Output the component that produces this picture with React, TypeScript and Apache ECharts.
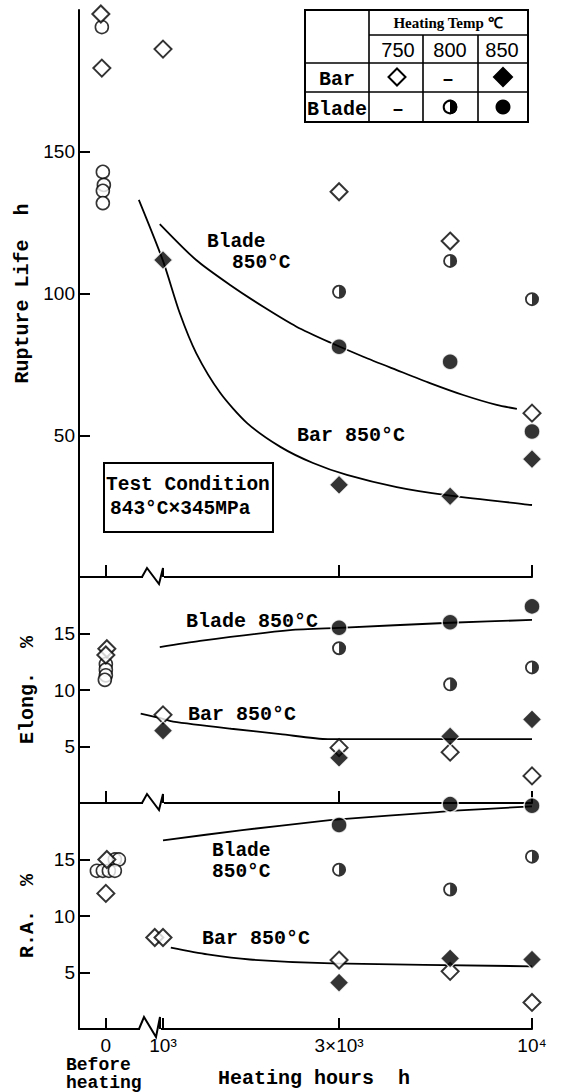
import React, { useEffect, useRef } from 'react';
import * as echarts from 'echarts';

// ---------- x axis (heating hours, log scale with a break) ----------
const BEFORE_SLOT = 700; // axis slot used for "0 / Before heating", left of the break
const X_MIN = 592;
const X_MAX = 10000;
const xTickHours = [BEFORE_SLOT, 1000, 3000, 10000];
const xTickLabels = ['0', '10³', '3×10³', '10⁴'];
const beforeHeatingLabel = 'Before\nheating';
const breakTickHours = [BEFORE_SLOT, 3000, 10000];
const xAxisTitle = 'Heating hours  h';

// ---------- Rupture life (h) ----------
const rlTicks = [50, 100, 150];
const rlBeforeDiamond = [198.6, 179.5];
const rlBeforeCircle = [194, 142.9, 138.3, 136.2, 131.9];
const rlBar750Hours = [1000, 3000, 6000, 10000];
const rlBar750 = [186.2, 135.9, 118.5, 57.8];
const rlBar850Hours = [1000, 3000, 6000, 10000];
const rlBar850 = [111.8, 32.5, 28.5, 41.6];
const rlBlade800Hours = [3000, 6000, 10000];
const rlBlade800 = [100.6, 111.5, 98.0];
const rlBlade850Hours = [3000, 6000, 10000];
const rlBlade850 = [81.2, 75.9, 51.3];
const rlBarFitHours = [860, 1000, 1110, 1230, 1430, 1690, 2080, 2550, 3150, 4300, 5870, 10000];
const rlBarFit = [133, 111.5, 93.1, 79.0, 64.9, 54.3, 45.9, 40.2, 36.0, 31.7, 28.9, 25.4];
const rlBladeFitHours = [980, 1230, 1520, 1870, 2300, 2840, 3490, 4300, 5290, 6510, 8020, 9100];
const rlBladeFit = [124.5, 111.8, 103.0, 95.3, 88.3, 82.7, 77.7, 73.0, 68.4, 64.2, 60.7, 59.3];

// ---------- Elongation (%) ----------
const elTicks = [5, 10, 15];
const elBeforeDiamond = [13.65, 13.1];
const elBeforeCircle = [12.3, 11.8, 11.3, 10.9];
const elBar750Hours = [1000, 3000, 6000, 10000];
const elBar750 = [7.8, 4.9, 4.5, 2.4];
const elBar850Hours = [1000, 3000, 6000, 10000];
const elBar850 = [6.4, 4.0, 5.9, 7.4];
const elBlade800Hours = [3000, 6000, 10000];
const elBlade800 = [13.7, 10.5, 12.0];
const elBlade850Hours = [3000, 6000, 10000];
const elBlade850 = [15.5, 16.0, 17.4];
const elBladeFitHours = [980, 1260, 2210, 3000, 6000, 10000];
const elBladeFit = [13.8, 14.35, 15.3, 15.5, 15.95, 16.2];
const elBarFitHours = [870, 1000, 1065, 1530, 2080, 2800, 10000];
const elBarFit = [7.9, 7.45, 7.2, 6.57, 6.1, 5.65, 5.65];

// ---------- Reduction of area (%) ----------
const raTicks = [5, 10, 15];
const raBeforeDiamond = [15.0, 12.0];
const raBeforeCircle = [15.0, 15.0, 14.0, 14.0, 14.0, 14.0];
const raBar750Hours = [950, 1000, 3000, 6000, 10000];
const raBar750 = [8.1, 8.1, 6.1, 5.1, 2.35];
const raBar850Hours = [3000, 6000, 10000];
const raBar850 = [4.1, 6.25, 6.15];
const raBlade800Hours = [3000, 6000, 10000];
const raBlade800 = [14.1, 12.35, 15.25];
const raBlade850Hours = [3000, 6000, 10000];
const raBlade850 = [18.05, 19.9, 19.75];
const raBladeFitHours = [1000, 1640, 2680, 3000, 5550, 6000, 10000];
const raBladeFit = [16.7, 17.6, 18.4, 18.55, 19.2, 19.3, 19.7];
const raBarFitHours = [1050, 1320, 1720, 2870, 10000];
const raBarFit = [7.2, 6.6, 6.15, 5.8, 5.55];

// small horizontal spread of the overlapping "before heating" markers (px, style only)
const rlCircleSpread = [-4, -3, -2, -3, -3];
const rlDiamondSpread = [-5, -4];
const elCircleSpread = [0, 0, 0, -1];
const elDiamondSpread = [1, 0];
const raCircleSpread = [9, 13, -9, -3, 3, 9];
const raDiamondSpread = [1, 0];

const L = (h: number) => Math.log10(h);
const pts = (hours: number[], vals: number[]) => vals.map((v, i) => [L(hours[i]), v]);
const beforePts = (vals: number[], offs: number[]) =>
  vals.map((v, i) => ({ value: [L(BEFORE_SLOT), v], symbolOffset: [offs[i] || 0, 0] }));

const MONO = '"Liberation Mono", "Courier New", monospace';
const SANS = '"Liberation Sans", Arial, sans-serif';
const SERIF = '"Liberation Serif", "Times New Roman", serif';

const HALF_PATH =
  'path://M10,0A10,10,0,1,1,10,20A10,10,0,1,1,10,0ZM10,2.6A7.4,7.4,0,1,0,10,17.4A7.4,7.4,0,1,0,10,2.6ZM10,2.6A7.4,7.4,0,0,1,10,17.4Z';

const openDiamond = { symbol: 'diamond', symbolSize: 17, itemStyle: { color: '#fff', borderColor: '#000', borderWidth: 2 } };
const filledDiamond = { symbol: 'diamond', symbolSize: 19, itemStyle: { color: '#000', borderColor: '#fff', borderWidth: 1.2 } };
const openCircle = { symbol: 'circle', symbolSize: 13, itemStyle: { color: '#fff', borderColor: '#000', borderWidth: 1.6 } };
const filledCircle = { symbol: 'circle', symbolSize: 16, itemStyle: { color: '#000', borderColor: '#fff', borderWidth: 1.6 } };
const halfBack = { symbol: 'circle', symbolSize: 17, itemStyle: { color: '#fff' } };
const halfFront = { symbol: HALF_PATH, symbolSize: 14, itemStyle: { color: '#000' } };

type PanelData = {
  beforeDiamond: number[]; beforeDiamondSpread: number[];
  beforeCircle: number[]; beforeCircleSpread: number[];
  bar750: number[][]; bar850: number[][]; blade800: number[][]; blade850: number[][];
  barFit: number[][]; bladeFit: number[][];
};

function panelSeries(idx: number, d: PanelData): any[] {
  const base = { xAxisIndex: idx, yAxisIndex: idx, silent: true, animation: false };
  const sc = (name: string, style: any, data: any[], z: number) => ({
    ...base, ...style, name, type: 'scatter', data, z, emphasis: { disabled: true },
  });
  const ln = (name: string, data: number[][]) => ({
    ...base, name, type: 'line', data, showSymbol: false, smooth: 0.25, z: 2,
    lineStyle: { color: '#000', width: 1.8 },
  });
  return [
    ln('Bar 850°C fit', d.barFit),
    ln('Blade 850°C fit', d.bladeFit),
    sc('Before heating (circle)', openCircle, beforePts(d.beforeCircle, d.beforeCircleSpread), 3),
    sc('Before heating (diamond)', openDiamond, beforePts(d.beforeDiamond, d.beforeDiamondSpread), 4),
    sc('Bar 750°C', openDiamond, d.bar750, 4),
    sc('Blade 800°C back', halfBack, d.blade800, 3),
    sc('Blade 800°C', halfFront, d.blade800, 4),
    sc('Blade 850°C', filledCircle, d.blade850, 5),
    sc('Bar 850°C', filledDiamond, d.bar850, 6),
  ];
}

function buildOption(): any {
  const grids = [
    { left: 79, top: 10, width: 453, height: 567 },
    { left: 79, top: 577, width: 453, height: 226 },
    { left: 79, top: 803, width: 453, height: 226 },
  ].map((g) => ({ ...g, containLabel: false, outerBoundsMode: 'none', show: false }));

  const axisLine = { show: true, onZero: false, lineStyle: { color: '#000', width: 2 } };

  const xAxisCommon = (i: number) => ({
    gridIndex: i, type: 'value', min: L(X_MIN), max: L(X_MAX), position: 'bottom',
    axisLine, splitLine: { show: false },
  });

  const xAxes = [
    { ...xAxisCommon(0), axisTick: { show: true, inside: true, length: 12, customValues: breakTickHours.map(L), lineStyle: { color: '#000', width: 2 } }, axisLabel: { show: false } },
    { ...xAxisCommon(1), axisTick: { show: true, inside: true, length: 12, customValues: breakTickHours.map(L), lineStyle: { color: '#000', width: 2 } }, axisLabel: { show: false } },
    {
      ...xAxisCommon(2),
      axisTick: { show: true, inside: true, length: 11, customValues: xTickHours.map(L), lineStyle: { color: '#000', width: 2 } },
      axisLabel: {
        show: true, margin: 7, customValues: xTickHours.map(L),
        showMinLabel: true, showMaxLabel: true, hideOverlap: false,
        fontFamily: SANS, fontSize: 19, color: '#000',
        formatter: (v: number) => {
          let best = 0;
          xTickHours.forEach((h, i) => {
            if (Math.abs(L(h) - v) < Math.abs(L(xTickHours[best]) - v)) best = i;
          });
          return xTickLabels[best];
        },
      },
      name: xAxisTitle, nameLocation: 'middle', nameGap: 39, nameMoveOverlap: false,
      nameTextStyle: { fontFamily: MONO, fontWeight: 'bold', fontSize: 20, color: '#000', padding: [0, 0, 0, 17] },
    },
  ];

  const yAxis = (i: number, max: number, ticks: number[], name: string, gap: number) => ({
    gridIndex: i, type: 'value', min: 0, max, position: 'left',
    axisLine, splitLine: { show: false },
    axisTick: { show: true, inside: true, length: 11, customValues: ticks, lineStyle: { color: '#000', width: 2 } },
    axisLabel: { show: true, customValues: ticks, margin: 4, fontFamily: SANS, fontSize: 19, color: '#000' },
    name, nameLocation: 'middle', nameRotate: 90, nameGap: gap,
    nameTextStyle: { fontFamily: MONO, fontWeight: 'bold', fontSize: 20, color: '#000' },
  });

  const yAxes = [
    yAxis(0, 200, rlTicks, 'Rupture Life  h', 46),
    yAxis(1, 20, elTicks, 'Elong.  %', 42),
    yAxis(2, 20, raTicks, 'R.A.  %', 42),
  ];

  const series = [
    ...panelSeries(0, {
      beforeDiamond: rlBeforeDiamond, beforeDiamondSpread: rlDiamondSpread,
      beforeCircle: rlBeforeCircle, beforeCircleSpread: rlCircleSpread,
      bar750: pts(rlBar750Hours, rlBar750), bar850: pts(rlBar850Hours, rlBar850),
      blade800: pts(rlBlade800Hours, rlBlade800), blade850: pts(rlBlade850Hours, rlBlade850),
      barFit: pts(rlBarFitHours, rlBarFit), bladeFit: pts(rlBladeFitHours, rlBladeFit),
    }),
    ...panelSeries(1, {
      beforeDiamond: elBeforeDiamond, beforeDiamondSpread: elDiamondSpread,
      beforeCircle: elBeforeCircle, beforeCircleSpread: elCircleSpread,
      bar750: pts(elBar750Hours, elBar750), bar850: pts(elBar850Hours, elBar850),
      blade800: pts(elBlade800Hours, elBlade800), blade850: pts(elBlade850Hours, elBlade850),
      barFit: pts(elBarFitHours, elBarFit), bladeFit: pts(elBladeFitHours, elBladeFit),
    }),
    ...panelSeries(2, {
      beforeDiamond: raBeforeDiamond, beforeDiamondSpread: raDiamondSpread,
      beforeCircle: raBeforeCircle, beforeCircleSpread: raCircleSpread,
      bar750: pts(raBar750Hours, raBar750), bar850: pts(raBar850Hours, raBar850),
      blade800: pts(raBlade800Hours, raBlade800), blade850: pts(raBlade850Hours, raBlade850),
      barFit: pts(raBarFitHours, raBarFit), bladeFit: pts(raBladeFitHours, raBladeFit),
    }),
  ];

  // ---------- decorations: annotations, legend table, axis breaks ----------
  const t = (x: number, y: number, text: string, extra: any = {}) => ({
    type: 'text', x, y, z: 60, silent: true,
    style: { text, fill: '#000', fontFamily: MONO, fontWeight: 'bold', fontSize: 20, lineHeight: 20, verticalAlign: 'middle', align: 'left', ...extra },
  });
  const line = (x1: number, y1: number, x2: number, y2: number, w = 1.6) => ({
    type: 'line', z: 55, silent: true, shape: { x1, y1, x2, y2 }, style: { stroke: '#000', lineWidth: w },
  });
  const diamond = (cx: number, cy: number, r: number, filled: boolean) => ({
    type: 'polygon', z: 60, silent: true,
    shape: { points: [[cx, cy - r], [cx + r, cy], [cx, cy + r], [cx - r, cy]] },
    style: { fill: filled ? '#000' : '#fff', stroke: '#000', lineWidth: 2 },
  });
  const breakMark = (y0: number, x0: number, x1: number, up: number, down: number) => [
    { type: 'rect', z: 70, silent: true, shape: { x: x0 - 1, y: y0 - 2, width: x1 - x0 + 2, height: 4 }, style: { fill: '#fff' } },
    {
      type: 'polyline', z: 71, silent: true,
      shape: { points: [[x0 - 2, y0], [x0 + 3, y0 - up], [x1 - 4, y0 + down], [x1, y0 - up], [x1, y0]] },
      style: { stroke: '#000', lineWidth: 2, fill: null },
    },
  ];

  const graphic = [
    // annotations inside the panels
    t(207, 242, 'Blade', { fontSize: 19.5 }), t(232, 263, '850°C', { fontSize: 19.5 }),
    t(297, 435, 'Bar 850°C'),
    { type: 'rect', z: 50, silent: true, shape: { x: 104, y: 463, width: 169, height: 69 }, style: { fill: '#fff', stroke: '#000', lineWidth: 2 } },
    t(106, 485, 'Test Condition', { fontSize: 19.5 }),
    t(110, 509, '843°C×345MPa', { fontSize: 19.5 }),
    t(186, 621, 'Blade 850°C'), t(188, 714, 'Bar 850°C'),
    t(212, 851, 'Blade', { fontSize: 19.5 }), t(212, 872, '850°C', { fontSize: 19.5 }),
    t(202, 938, 'Bar 850°C'),
    // "Before heating" under the 0 tick
    t(66, 1074, beforeHeatingLabel, { fontSize: 18, lineHeight: 18 }),
    // legend table
    { type: 'rect', z: 54, silent: true, shape: { x: 305, y: 10, width: 223, height: 112 }, style: { fill: '#fff', stroke: '#000', lineWidth: 2 } },
    line(369, 35, 528, 35), line(305, 63, 528, 63), line(305, 92, 528, 92),
    line(369, 10, 369, 122), line(423, 35, 423, 122), line(478, 35, 478, 122),
    t(448, 23, 'Heating Temp ℃', { fontFamily: SERIF, fontSize: 15, align: 'center' }),
    t(398, 50, '750', { fontFamily: SANS, fontWeight: 'normal', fontSize: 20, align: 'center' }),
    t(450, 50, '800', { fontFamily: SANS, fontWeight: 'normal', fontSize: 20, align: 'center' }),
    t(502, 50, '850', { fontFamily: SANS, fontWeight: 'normal', fontSize: 20, align: 'center' }),
    t(337, 79, 'Bar', { align: 'center' }),
    t(337, 109, 'Blade', { align: 'center' }),
    diamond(397, 77, 8.5, false),
    t(448, 79, '–', { align: 'center' }),
    diamond(503, 77, 9, true),
    t(398, 109, '–', { align: 'center' }),
    { type: 'circle', z: 60, silent: true, shape: { cx: 450, cy: 107, r: 6.3 }, style: { fill: '#fff', stroke: '#000', lineWidth: 2 } },
    { type: 'sector', z: 61, silent: true, shape: { cx: 450, cy: 107, r: 7.3, r0: 0, startAngle: -Math.PI / 2, endAngle: Math.PI / 2 }, style: { fill: '#000' } },
    { type: 'circle', z: 60, silent: true, shape: { cx: 503, cy: 107, r: 7.5 }, style: { fill: '#000' } },
    // axis breaks
    ...breakMark(577, 144, 163, 9, 7),
    ...breakMark(803, 144, 163, 9, 7),
    ...breakMark(1029, 141, 160, 12, 8),
  ];

  return {
    animation: false,
    backgroundColor: '#fff',
    grid: grids,
    xAxis: xAxes,
    yAxis: yAxes,
    series,
    graphic,
  };
}

export default function App() {
  const ref = useRef<HTMLDivElement>(null);
  useEffect(() => {
    if (!ref.current) return;
    const chart = echarts.init(ref.current, null, { renderer: 'svg' });
    chart.setOption(buildOption());
    return () => chart.dispose();
  }, []);
  return (
    <div
      ref={ref}
      style={{ position: 'absolute', left: 0, top: 0, width: 562, height: 1092, background: '#fff' }}
    />
  );
}
